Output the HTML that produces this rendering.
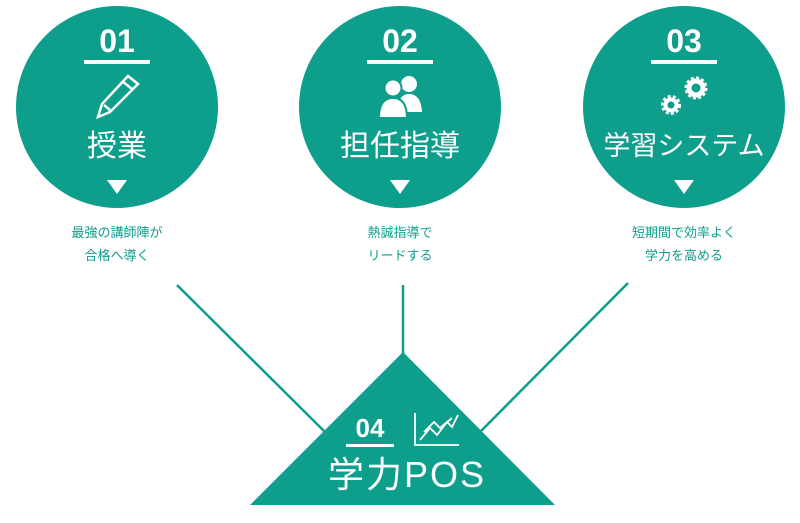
<!DOCTYPE html>
<html><head><meta charset="utf-8"><style>
body{margin:0;width:800px;height:523px;background:#fff;overflow:hidden;}
svg{display:block}
text{font-family:"Liberation Sans","Noto Sans CJK JP",sans-serif;}
</style></head><body>
<svg width="800" height="523" viewBox="0 0 800 523">
<g stroke="#0e9e8c" stroke-width="2.5" fill="none">
<line x1="177" y1="285" x2="325" y2="432"/>
<line x1="403" y1="285" x2="403" y2="355"/>
<line x1="628" y1="283" x2="480" y2="432"/>
</g>
<g fill="#0e9e8c">
<circle cx="117" cy="107" r="101"/>
<circle cx="400" cy="107" r="101"/>
<circle cx="684" cy="107" r="101"/>
<polygon points="403,352 555,505 250,505"/>
</g>
<g fill="#fff" text-anchor="middle">
<text x="117" y="52" font-size="32" font-weight="bold">01</text>
<text x="400" y="52" font-size="32" font-weight="bold">02</text>
<text x="684" y="52" font-size="32" font-weight="bold">03</text>
<rect x="84" y="60" width="66" height="4"/>
<rect x="367" y="60" width="66" height="4"/>
<rect x="651" y="60" width="66" height="4"/>
<text x="117" y="156" font-size="30">授業</text>
<text x="400" y="156" font-size="30">担任指導</text>
<text x="684" y="155" font-size="27">学習システム</text>
<polygon points="107,180 127,180 117,194"/>
<polygon points="390,180 410,180 400,194"/>
<polygon points="674,180 694,180 684,194"/>
<text x="370" y="437" font-size="26" font-weight="bold">04</text>
<rect x="346" y="444" width="48" height="3"/>
<text x="407" y="487" font-size="36" letter-spacing="2">学力POS</text>
</g>
<g fill="none" stroke="#fff" stroke-width="2.5">
<polygon points="128,76 138,84 110,112 98,117 102,104"/>
<line x1="122" y1="81" x2="132" y2="89"/>
<line x1="104" y1="105" x2="110" y2="110" />
</g>
<g fill="#fff">
<circle cx="409" cy="84" r="8"/>
<path d="M397 112 Q398 94 409 94 Q421 94 422 112 Z"/>
<circle cx="393" cy="88" r="8.5" stroke="#0e9e8c" stroke-width="2"/>
<path d="M379 118 Q379 98 393 98 Q407 98 407 118 Z" stroke="#0e9e8c" stroke-width="2"/>
</g>
<g fill="none" stroke="#fff">
<circle cx="696" cy="88" r="7" stroke-width="5"/>
<circle cx="696" cy="88" r="10" stroke-width="3" stroke-dasharray="3 2.2"/>
<circle cx="671" cy="105" r="5.5" stroke-width="4"/>
<circle cx="671" cy="105" r="8.5" stroke-width="3" stroke-dasharray="3 2.2"/>
</g>
<g fill="none" stroke="#fff" stroke-width="1.8">
<polyline points="415,413 415,445 459,445"/>
<polyline points="420,440 430,428 437,435 447,422 452,427 458,415"/>
<polyline points="424,432 434,422 440,428 452,418"/>
</g>
<g fill="#0e9e8c" font-size="13" text-anchor="middle">
<text x="117" y="237">最強の講師陣が</text>
<text x="117" y="260">合格へ導く</text>
<text x="400" y="237">熱誠指導で</text>
<text x="400" y="260">リードする</text>
<text x="684" y="237">短期間で効率よく</text>
<text x="684" y="260">学力を高める</text>
</g>
</svg>
</body></html>
